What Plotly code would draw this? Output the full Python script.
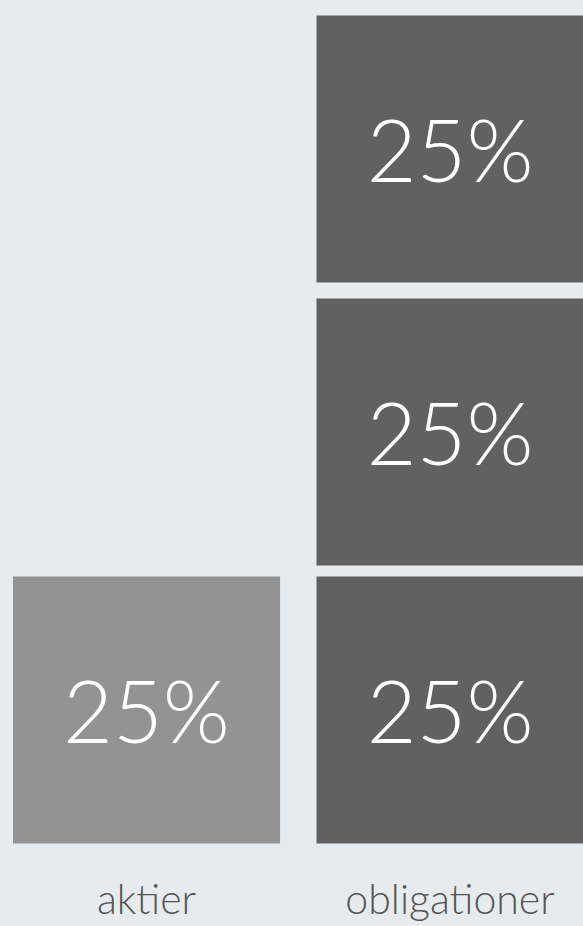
import plotly.graph_objects as go

# Data
categories = ["aktier", "obligationer"]
aktier_values = [25]
obligationer_values = [25, 25, 25]
value_labels_aktier = ["25%"]
value_labels_oblig = ["25%", "25%", "25%"]

# Styling
BG = "#e8ebee"
AKTIER_COLOR = "#939393"
OBLIG_COLOR = "#616161"
GAPS = [1.03, 1.5]  # visual gaps between stacked blocks (axis units)
FONT = "Lato"

fig = go.Figure()

fig.add_trace(go.Bar(
    x=[categories[0]], y=aktier_values, base=[0],
    marker=dict(color=AKTIER_COLOR, line=dict(width=0)),
    text=value_labels_aktier, textposition="inside", insidetextanchor="middle",
    textfont=dict(family=FONT, size=86, color="white", weight=300),
    width=0.88, constraintext="none", hoverinfo="skip",
))

base = 0.0
for i, v in enumerate(obligationer_values):
    fig.add_trace(go.Bar(
        x=[categories[1]], y=[v], base=[base],
        marker=dict(color=OBLIG_COLOR, line=dict(width=0)),
        text=[value_labels_oblig[i]], textposition="inside", insidetextanchor="middle",
        textfont=dict(family=FONT, size=86, color="white", weight=300),
        width=0.88, constraintext="none", hoverinfo="skip",
    ))
    base += v
    if i < len(GAPS):
        base += GAPS[i]

fig.update_layout(
    width=583, height=926,
    margin=dict(l=0, r=0, t=0, b=54),
    paper_bgcolor=BG, plot_bgcolor=BG,
    barmode="overlay",
    showlegend=False,
    xaxis=dict(
        type="category", range=[-0.4827, 1.438],
        showgrid=False, zeroline=False, showline=False, ticks="",
        tickfont=dict(family=FONT, size=41, color="#555555", weight=300),
        fixedrange=True,
    ),
    yaxis=dict(
        range=[-2.67, 78.98], visible=False, fixedrange=True,
    ),
)

fig.write_html(
    "out.html",
    config={"displayModeBar": False},
    post_script="document.body.style.margin='0';document.body.style.overflow='hidden';",
)
